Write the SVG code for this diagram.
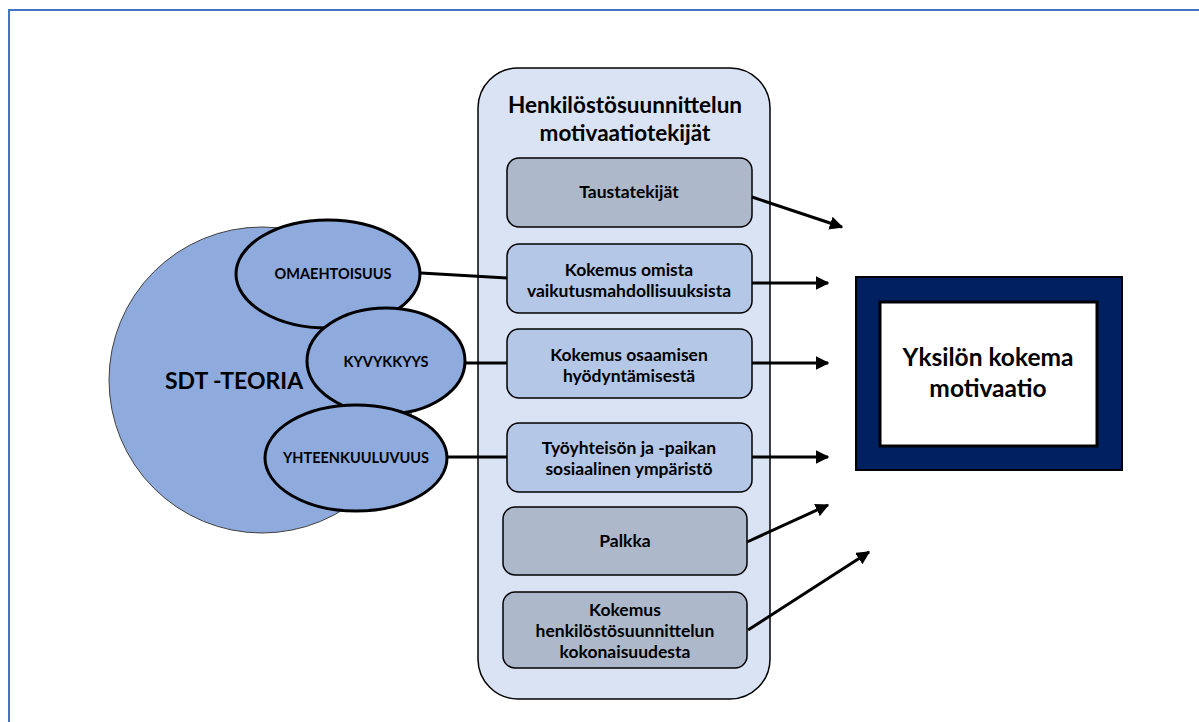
<svg xmlns="http://www.w3.org/2000/svg" width="1199" height="722" viewBox="0 0 1199 722">
  <defs>
    <marker id="arrow" viewBox="0 0 10 10" refX="9" refY="5" markerWidth="4.5" markerHeight="4.5" orient="auto" markerUnits="strokeWidth">
      <path d="M0,0 L10,5 L0,10 z" fill="#000"/>
    </marker>
    <style>
      text { font-family: Lato, "Open Sans", "Liberation Sans", sans-serif; font-weight: bold; fill: #000; text-anchor: middle; }
      .xs { font-size: 14.5px; }
      .sm { font-size: 17.5px; }
      .md { font-size: 22.5px; }
      .lg { font-size: 23px; }
      .xl { font-size: 24.5px; }
      .ell { fill: #8FAADC; stroke: #000; stroke-width: 3; }
      .grey { fill: #ADB9CA; stroke: #000; stroke-width: 1.5; }
      .blue { fill: #B4C7E7; stroke: #000; stroke-width: 1.5; }
      .conn { stroke: #000; stroke-width: 3; fill: none; }
    </style>
  </defs>

  <rect width="1199" height="722" fill="#fff"/>
  <!-- page frame -->
  <rect x="9" y="10" width="1200" height="720" fill="none" stroke="#4472C4" stroke-width="2"/>

  <!-- SDT theory -->
  <g id="sdt">
    <circle cx="262" cy="380" r="153" fill="#8FAADC" stroke="#404040" stroke-width="1"/>
    <text class="lg" x="234" y="389">SDT -TEORIA</text>
  </g>
  <g id="omaehtoisuus">
    <ellipse class="ell" cx="328" cy="274" rx="92" ry="54"/>
    <text class="xs" x="333" y="279">OMAEHTOISUUS</text>
  </g>
  <g id="kyvykkyys">
    <ellipse class="ell" cx="386" cy="361" rx="79" ry="53"/>
    <text class="xs" x="386" y="367">KYVYKKYYS</text>
  </g>
  <g id="yhteenkuuluvuus">
    <ellipse class="ell" cx="356" cy="458" rx="91" ry="53"/>
    <text class="xs" x="356" y="463">YHTEENKUULUVUUS</text>
  </g>

  <!-- panel of motivation factors -->
  <g id="panel">
    <rect x="478" y="68" width="292" height="631" rx="40" fill="#DAE3F3" stroke="#000" stroke-width="1.5"/>
    <text class="md" x="625" y="113">Henkilöstösuunnittelun</text>
    <text class="md" x="625" y="141">motivaatiotekijät</text>
  </g>
  <g id="taustatekijat">
    <rect class="grey" x="507" y="158" width="245" height="69" rx="12"/>
    <text class="sm" x="629" y="198">Taustatekijät</text>
  </g>
  <g id="vaikutusmahdollisuudet">
    <rect class="blue" x="507" y="244" width="245" height="69" rx="12"/>
    <text class="sm" x="629" y="276">Kokemus omista</text>
    <text class="sm" x="629" y="297">vaikutusmahdollisuuksista</text>
  </g>
  <g id="osaaminen">
    <rect class="blue" x="507" y="329" width="245" height="69" rx="12"/>
    <text class="sm" x="629" y="361">Kokemus osaamisen</text>
    <text class="sm" x="629" y="382">hyödyntämisestä</text>
  </g>
  <g id="tyoyhteiso">
    <rect class="blue" x="507" y="423" width="245" height="69" rx="12"/>
    <text class="sm" x="629" y="454">Työyhteisön ja -paikan</text>
    <text class="sm" x="629" y="475">sosiaalinen ympäristö</text>
  </g>
  <g id="palkka">
    <rect class="grey" x="503" y="507" width="244" height="68" rx="12"/>
    <text class="sm" x="625" y="547">Palkka</text>
  </g>
  <g id="kokonaisuus">
    <rect class="grey" x="503" y="592" width="244" height="76" rx="12"/>
    <text class="sm" x="625" y="616">Kokemus</text>
    <text class="sm" x="625" y="637">henkilöstösuunnittelun</text>
    <text class="sm" x="625" y="658">kokonaisuudesta</text>
  </g>

  <!-- outcome -->
  <g id="motivaatio">
    <rect x="856" y="277" width="266" height="193" fill="#002060" stroke="#000" stroke-width="2"/>
    <rect x="880" y="302" width="217" height="144" fill="#fff" stroke="#000" stroke-width="3"/>
    <text class="xl" x="988" y="366">Yksilön kokema</text>
    <text class="xl" x="988" y="397">motivaatio</text>
  </g>

  <!-- connectors -->
  <g id="connectors">
    <line class="conn" x1="421" y1="273" x2="507" y2="278"/>
    <line class="conn" x1="465" y1="363" x2="507" y2="363"/>
    <line class="conn" x1="447" y1="457" x2="507" y2="457"/>
    <line class="conn" x1="752" y1="197" x2="842" y2="227" marker-end="url(#arrow)"/>
    <line class="conn" x1="752" y1="283" x2="828" y2="283" marker-end="url(#arrow)"/>
    <line class="conn" x1="752" y1="363" x2="828" y2="363" marker-end="url(#arrow)"/>
    <line class="conn" x1="752" y1="457" x2="828" y2="457" marker-end="url(#arrow)"/>
    <line class="conn" x1="747" y1="542" x2="828" y2="505" marker-end="url(#arrow)"/>
    <line class="conn" x1="748" y1="630" x2="869" y2="552" marker-end="url(#arrow)"/>
  </g>
</svg>
